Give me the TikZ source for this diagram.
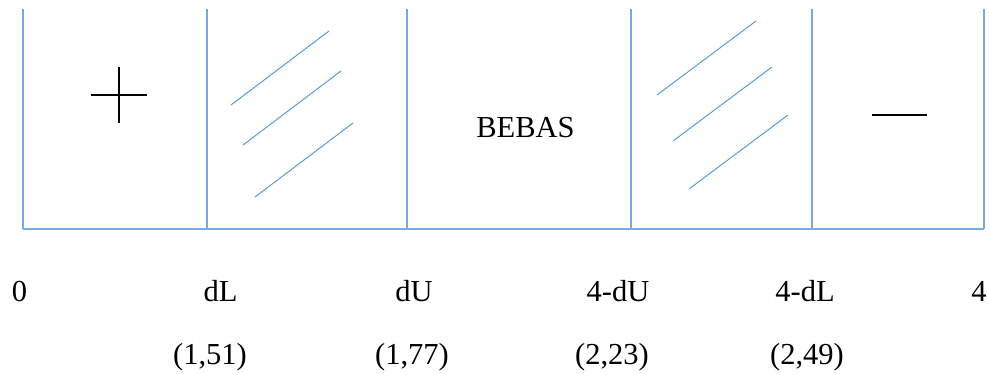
\documentclass[tikz,border=0pt]{standalone}
\usepackage{fontspec}
\setmainfont{Liberation Serif}
\definecolor{axisblue}{RGB}{120,170,222}
\definecolor{hatchblue}{RGB}{91,155,213}
\tikzset{
  gridline/.style={draw=axisblue, line width=1.5pt},
  hatchline/.style={draw=hatchblue, line width=1pt},
  signline/.style={draw=black, line width=2.8pt},
  lbl/.style={inner sep=0pt, anchor=base, font=\fontsize{30.5}{36}\selectfont},
}
\begin{document}
\begin{tikzpicture}[x=1pt, y=-1pt]
\useasboundingbox (0,0) rectangle (989,374);
% axis frame
\draw[gridline] (23,229) -- (984,229);
\foreach \xx in {23,207,407,631,812,984}{
  \draw[gridline] (\xx,9) -- (\xx,229);
}
% hatching, zone dL..dU
\draw[hatchline] (231,105) -- (329,31);
\draw[hatchline] (243,145) -- (341,71);
\draw[hatchline] (255,197) -- (353,123);
% hatching, zone 4-dU..4-dL
\draw[hatchline] (657,95) -- (756,21);
\draw[hatchline] (673,141) -- (772,67);
\draw[hatchline] (689,189) -- (788,115);
% plus and minus signs
\draw[signline] (91,95) -- (147,95);
\draw[signline] (119,67) -- (119,123);
\draw[signline] (872,115) -- (927,115);
% texts
\node[lbl] (bebas) at (525.5,138) {BEBAS};
\node[lbl] (l0) at (19.5,302) {0};
\node[lbl] (ldl) at (220.5,302) {dL};
\node[lbl] (ldu) at (414,302) {dU};
\node[lbl] (l4du) at (618,302) {4-dU};
\node[lbl] (l4dl) at (805,302) {4-dL};
\node[lbl] (l4) at (979,302) {4};
\node[lbl] (v1) at (210,364) {(1,51)};
\node[lbl] (v2) at (412,364) {(1,77)};
\node[lbl] (v3) at (612,364) {(2,23)};
\node[lbl] (v4) at (807,364) {(2,49)};
\end{tikzpicture}
\end{document}
